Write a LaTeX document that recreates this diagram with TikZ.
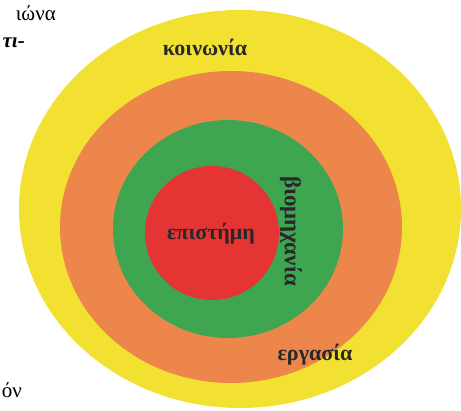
\documentclass[tikz,border=0pt]{standalone}
\usepackage{fontspec}
\setmainfont{Liberation Serif}
\definecolor{cyel}{RGB}{243,225,50}
\definecolor{corg}{RGB}{236,134,74}
\definecolor{cgrn}{RGB}{62,166,80}
\definecolor{cred}{RGB}{229,52,52}
\definecolor{ctxt}{RGB}{40,40,40}
\begin{document}
\begin{tikzpicture}[x=1pt,y=-1pt,
  lbl/.style={font=\bfseries\fontsize{22}{22}\selectfont, text=ctxt, inner sep=0pt},
  frag/.style={font=\fontsize{21}{21}\selectfont, text=black, inner sep=0pt}]
\useasboundingbox (0,0) rectangle (461,411);
\fill[cyel] (240,209) ellipse [x radius=221, y radius=199];
\fill[corg] (231,227) ellipse [x radius=171, y radius=156];
\fill[cgrn] (228,229) ellipse [x radius=115, y radius=109];
\fill[cred] (212,233) circle [radius=67];
\node[lbl] (koin) at (205,47) {κοινωνία};
\node[lbl] (erg) at (315,355) {εργασία};
\node[lbl] (epi) at (211,234) {επιστήμη};
\node[lbl, rotate=-90, font=\bfseries\fontsize{23}{23}\selectfont] (bio) at (291,231) {βιομηχανία};
\node[frag, anchor=east] (f1) at (56,13) {ιώνα};
\node[frag, anchor=east, font=\bfseries\itshape\fontsize{21}{21}\selectfont] (f2) at (25,43) {τι-};
\node[frag, anchor=east] (f4) at (22,390) {όν};
\end{tikzpicture}
\end{document}
